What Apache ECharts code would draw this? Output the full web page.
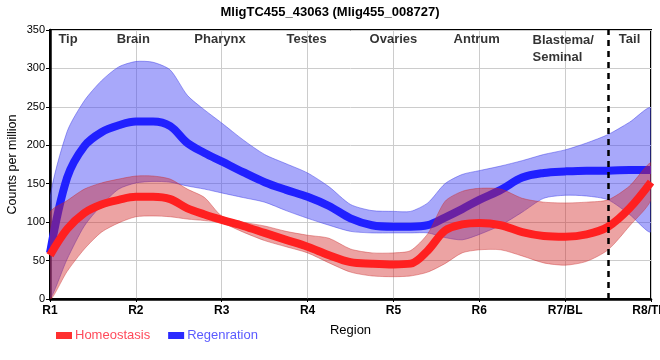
<!DOCTYPE html>
<html><head><meta charset="utf-8">
<script src="https://cdn.jsdelivr.net/npm/echarts@6/dist/echarts.min.js"></script>
<style>html,body{margin:0;padding:0;background:#fff}#c{width:660px;height:360px}</style>
</head><body><div id="c"></div>
<script>
var titleText = 'MligTC455_43063 (Mlig455_008727)';
var categories = ['R1','R2','R3','R4','R5','R6','R7/BL','R8/TIP'];
var yTicks = [0,50,100,150,200,250,300,350];
var regionNames = ['Tip','Brain','Pharynx','Testes','Ovaries','Antrum','Blastema/\nSeminal','Tail'];
var regionX = [1.21, 1.97, 2.98, 3.99, 5.0, 5.97, 6.62, 7.75];
var regionY = [338, 338, 338, 338, 338, 338, 326, 338];
var boundaryX = 7.5;

var xs = [1,1.2,1.4,1.6,1.8,2,2.2,2.4,2.6,2.8,3,3.25,3.5,3.75,4,4.25,4.5,4.75,5,5.2,5.4,5.6,5.8,6,6.25,6.5,6.75,7,7.25,7.5,7.75,8];
var regenMean  = [60,158,199,217,226,231,231,225,203,190,179,165,152,142,133,121,105,96,94,94,96,106,117,129,142,158,164,166,167,167,168,168];
var regenUpper = [130,218,258,284,302,309,308,298,265,246,229,207,188,176,164,146,123,115,114,114,125,150,162,167,173,180,188,194,203,214,230,248];
var regenLower = [2,52,95,122,143,151,153,152,147,143,138,132,126,115,105,96,88,86,86,86,86,80,77,84,96,113,131,135,134,129,110,88];
var homeoMean  = [57,91,112,123,129,133,133,130,118,110,103,95,86,77,68,57,48,46,45,46,63,89,97,99,96,87,82,81,84,94,118,152];
var homeoUpper = [112,128,143,151,156,160,160,156,143,132,108,100,95,88,83,79,65,60,60,63,85,127,140,144,143,131,126,125,126,129,147,177];
var homeoLower = [0,36,65,87,99,107,108,107,104,102,99,87,76,68,60,47,35,30,29,30,35,46,60,64,64,56,47,44,49,64,95,129];

var FF = 'Liberation Sans, Arial, sans-serif';
function pairs(ys){ return xs.map(function(x,i){ return [x, ys[i]]; }); }

var SM = 0.35;
function band(name, lower, upper, fill, edge, z){
  return {
    name: name, type:'custom', z: z, silent:true,
    data: xs.map(function(x,i){ return [x, lower[i], upper[i]]; }),
    encode:{x:0, y:[1,2]},
    renderItem: function(params, api){
      if (params.dataIndex !== 0) return null;
      var pts = [];
      for (var i = 0; i < xs.length; i++) pts.push(api.coord([xs[i], upper[i]]));
      for (var j = xs.length - 1; j >= 0; j--) pts.push(api.coord([xs[j], lower[j]]));
      var cs = params.coordSys;
      return {
        type:'group',
        clipPath:{type:'rect', shape:{x:cs.x, y:cs.y, width:cs.width, height:cs.height}},
        children:[{type:'polygon', shape:{points: pts, smooth: 0.25},
          style:{fill: fill, stroke: edge, lineWidth: 0.8}}]
      };
    }
  };
}

var regionData = regionNames.map(function(n,i){
  var item = {name:n, value:[regionX[i], regionY[i]]};
  if (n.indexOf('\n') >= 0) item.label = {align:'left'};
  return item;
});

var series = [
  band('regenBand', regenLower, regenUpper, 'rgba(70,70,245,0.47)', 'rgba(60,60,230,0.6)', 1),
  {name:'Regenration', type:'line', data: pairs(regenMean), smooth: SM, symbol:'none', z: 2,
    color:'#2a2aff', lineStyle:{width:8, color:'#2020ff'}},
  band('homeoBand', homeoLower, homeoUpper, 'rgba(210,35,35,0.42)', 'rgba(200,40,40,0.5)', 3),
  {name:'Homeostasis', type:'line', data: pairs(homeoMean), smooth: SM, symbol:'none', z: 4,
    color:'#ff3030', lineStyle:{width:8, color:'#ff2020'},
    markLine:{silent:true, symbol:'none', label:{show:false},
      lineStyle:{color:'#000', type:[6,5], width:2.5}, data:[{xAxis: boundaryX}]}},
  {name:'regions', type:'scatter', symbolSize:0, z: 6, data: regionData, silent:true,
    label:{show:true, position:'inside', formatter:'{b}', color:'#000', fontWeight:'bold',
      fontSize:13, lineHeight:17, fontFamily: FF}}
];

var chart = echarts.init(document.getElementById('c'), null, {renderer:'canvas'});
chart.setOption({
  animation:false,
  textStyle:{fontFamily: FF},
  title:{text:titleText, left:'center', top:1,
    textStyle:{fontSize:13, fontWeight:'bold', color:'#000', fontFamily: FF}},
  legend:{left:51, top:324, itemWidth:16, itemHeight:7, itemGap:18, icon:'rect',
    data:[{name:'Homeostasis', textStyle:{color:'#ff4a5a'}},
          {name:'Regenration', textStyle:{color:'#5a5aff'}}],
    textStyle:{fontSize:13, padding:[0,0,0,-2]}},
  grid:{left:50, right:9, top:30, bottom:61, containLabel:false, outerBoundsMode:'none',
    show:true, borderColor:'#000', borderWidth:2, backgroundColor:'transparent'},
  xAxis:{type:'value', min:1, max:8, interval:1,
    name:'Region', nameLocation:'middle', nameGap:25, nameMoveOverlap:false,
    nameTextStyle:{color:'#000', fontSize:13},
    axisLine:{lineStyle:{color:'#000', width:2.5}},
    axisTick:{show:true, length:3, lineStyle:{color:'#000'}},
    axisLabel:{color:'#000', fontWeight:'bold', fontSize:12, margin:6, hideOverlap:false,
      formatter:function(v){ return categories[Math.round(v)-1] || ''; }},
    splitLine:{show:true, lineStyle:{color:'#cccccc', width:1}}},
  yAxis:{type:'value', min:yTicks[0], max:yTicks[yTicks.length-1], interval:50,
    name:'Counts per million', nameLocation:'middle', nameGap:31, nameMoveOverlap:false,
    nameTextStyle:{color:'#000', fontSize:12.5},
    axisLine:{show:true, lineStyle:{color:'#000', width:2.5}},
    axisTick:{show:true, length:4, lineStyle:{color:'#000'}},
    axisLabel:{color:'#000', fontSize:11, margin:5},
    splitLine:{show:true, lineStyle:{color:'#cccccc', width:1}}},
  series: series
});
</script></body></html>
